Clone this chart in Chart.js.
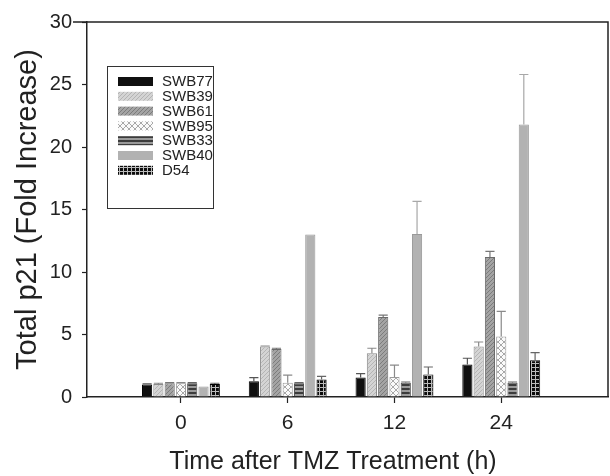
<!DOCTYPE html>
<html>
<head>
<meta charset="utf-8">
<script src="https://cdn.jsdelivr.net/npm/chart.js@4.4.1/dist/chart.umd.min.js"></script>
<style>
	html, body { margin: 0; padding: 0; background: #fff; }
	#wrap { width: 610px; height: 476px; }
</style>
</head>
<body>
<div id="wrap"><canvas id="p21Chart" width="610" height="476"></canvas></div>
<script>
// Time points (h) and cell lines
const timeLabels = [ '0', '6', '12', '24' ];
const lineNames = [ 'SWB77', 'SWB39', 'SWB61', 'SWB95', 'SWB33', 'SWB40', 'D54' ];

// Mean fold increase per cell line, one value per time point
const swb77 = [ 1.0, 1.27, 1.57, 2.6 ];
const swb39 = [ 1.05, 4.05, 3.5, 4.05 ];
const swb61 = [ 1.1, 3.85, 6.4, 11.2 ];
const swb95 = [ 1.1, 1.15, 1.6, 4.85 ];
const swb33 = [ 1.1, 1.1, 1.15, 1.15 ];
const swb40 = [ 0.85, 13.0, 13.05, 21.8 ];
const d54 = [ 1.05, 1.4, 1.8, 2.95 ];

// Upper error (SD) per cell line
const swb77Err = [ 0.05, 0.28, 0.3, 0.5 ];
const swb39Err = [ 0.05, 0.03, 0.4, 0.35 ];
const swb61Err = [ 0.05, 0.05, 0.15, 0.45 ];
const swb95Err = [ 0.05, 0.6, 0.95, 2.0 ];
const swb33Err = [ 0.05, 0.05, 0.05, 0.05 ];
const swb40Err = [ 0.0, 0.0, 2.6, 4.0 ];
const d54Err = [ 0.05, 0.25, 0.6, 0.6 ];

const yTicks = [ 0, 5, 10, 15, 20, 25, 30 ];
const xTitle = 'Time after TMZ Treatment (h)';

const FONT = '"Liberation Sans", Arial, sans-serif';
const TEXT = '#222';

// Fill patterns
function makePattern( size, draw ) {
	const c = document.createElement( 'canvas' );
	c.width = size;
	c.height = size;
	const g = c.getContext( '2d' );
	draw( g, size );
	return document.getElementById( 'p21Chart' ).getContext( '2d' ).createPattern( c, 'repeat' );
}

function diagonal( base, line ) {
	return makePattern( 4, ( g, s ) => {
		g.fillStyle = base;
		g.fillRect( 0, 0, s, s );
		g.fillStyle = line;
		for ( let i = 0; i < s; i++ ) {
			g.fillRect( i, s - 1 - i, 1, 1 );
		}
	} );
}

const fills = [
	'#101010',
	diagonal( '#d4d4d4', '#b4b4b4' ),
	diagonal( '#a4a4a4', '#7c7c7c' ),
	makePattern( 6, ( g, s ) => {
		g.fillStyle = '#fafafa';
		g.fillRect( 0, 0, s, s );
		g.fillStyle = '#a8a8a8';
		for ( let i = 0; i < s; i++ ) {
			g.fillRect( i, i, 1, 1 );
			g.fillRect( i, s - 1 - i, 1, 1 );
		}
	} ),
	makePattern( 4, ( g, s ) => {
		g.fillStyle = '#9a9a9a';
		g.fillRect( 0, 0, s, s );
		g.fillStyle = '#3c3c3c';
		g.fillRect( 0, 0, s, 2 );
	} ),
	'#b2b2b2',
	makePattern( 4, ( g, s ) => {
		g.fillStyle = '#0c0c0c';
		g.fillRect( 0, 0, s, s );
		g.fillStyle = '#bbbbbb';
		g.fillRect( 0, 3, s, 1 );
		g.fillRect( 3, 0, 1, s );
	} ),
];
const borders = [ '#000', '#8a8a8a', '#6a6a6a', '#9a9a9a', '#444', '#999', '#000' ];
const errColors = [ '#555', '#8a8a8a', '#777', '#8a8a8a', '#666', '#a8a8a8', '#666' ];

const means = [ swb77, swb39, swb61, swb95, swb33, swb40, d54 ];
const errs = [ swb77Err, swb39Err, swb61Err, swb95Err, swb33Err, swb40Err, d54Err ];

const datasets = lineNames.map( ( name, i ) => ( {
	label: name,
	data: means[ i ].map( ( v, t ) => ( { x: t, y: v } ) ),
	errors: errs[ i ],
	errColor: errColors[ i ],
	backgroundColor: fills[ i ],
	borderColor: borders[ i ],
	borderWidth: 1,
	categoryPercentage: 0.74,
	barPercentage: 0.9,
} ) );

// Upper error bars with caps
const errorBars = {
	id: 'errorBars',
	afterDatasetsDraw( chart ) {
		const ctx = chart.ctx;
		const yScale = chart.scales.y;
		chart.data.datasets.forEach( ( ds, i ) => {
			const meta = chart.getDatasetMeta( i );
			meta.data.forEach( ( bar, j ) => {
				const err = ds.errors[ j ];
				if ( ! err ) {
					return;
				}
				const top = yScale.getPixelForValue( ds.data[ j ].y + err );
				const half = bar.width * 0.45;
				ctx.save();
				ctx.strokeStyle = ds.errColor;
				ctx.lineWidth = 1.2;
				ctx.beginPath();
				ctx.moveTo( bar.x, bar.y );
				ctx.lineTo( bar.x, top );
				ctx.moveTo( bar.x - half, top );
				ctx.lineTo( bar.x + half, top );
				ctx.stroke();
				ctx.restore();
			} );
		} );
	},
};

// Frame around the plot, x title, boxed legend inside the plot
const frameAndLegend = {
	id: 'frameAndLegend',
	afterDraw( chart ) {
		const ctx = chart.ctx;
		const a = chart.chartArea;
		ctx.save();
		ctx.strokeStyle = '#222';
		ctx.lineWidth = 1.5;
		ctx.beginPath();
		ctx.moveTo( a.left - 14, a.top );
		ctx.lineTo( a.right, a.top );
		ctx.lineTo( a.right, a.bottom );
		ctx.stroke();

		// x title sits left of the axis centre in the original
		ctx.font = '25px ' + FONT;
		ctx.fillStyle = TEXT;
		ctx.textAlign = 'center';
		ctx.textBaseline = 'middle';
		ctx.fillText( xTitle, a.left + 246, chart.height - 14 );

		const bx = a.left + 20;
		const by = a.top + 44;
		ctx.lineWidth = 1;
		ctx.strokeStyle = '#333';
		ctx.strokeRect( bx + 0.5, by + 0.5, 106, 142 );
		ctx.font = '15px ' + FONT;
		ctx.textAlign = 'left';
		chart.data.datasets.forEach( ( ds, i ) => {
			const ry = by + 15 + i * 14.8;
			ctx.fillStyle = ds.backgroundColor;
			ctx.fillRect( bx + 11, ry - 4, 35, 9 );
			ctx.fillStyle = TEXT;
			ctx.fillText( ds.label, bx + 55, ry + 1 );
		} );
		ctx.restore();
	},
};

new Chart( document.getElementById( 'p21Chart' ), {
	type: 'bar',
	data: { datasets },
	plugins: [ errorBars, frameAndLegend ],
	options: {
		responsive: false,
		animation: false,
		layout: { padding: { top: 18, right: 2, left: 0, bottom: 0 } },
		plugins: {
			legend: { display: false },
			tooltip: { enabled: false },
		},
		scales: {
			x: {
				type: 'linear',
				min: -0.88,
				max: 4.0,
				offset: false,
				afterFit: ( s ) => {
					s.height = 79;
				},
				afterBuildTicks: ( s ) => {
					s.ticks = timeLabels.map( ( l, i ) => ( { value: i } ) );
				},
				grid: {
					offset: false,
					drawOnChartArea: false,
					drawTicks: true,
					tickLength: 6,
					tickColor: '#222',
					tickWidth: 1.2,
				},
				border: { color: '#222', width: 1.5 },
				ticks: {
					callback: ( v ) => timeLabels[ v ],
					font: { family: FONT, size: 21 },
					color: TEXT,
					padding: 8,
					maxRotation: 0,
				},
			},
			y: {
				min: 0,
				max: 30,
				afterFit: ( s ) => {
					s.width = 87;
				},
				afterBuildTicks: ( s ) => {
					s.ticks = yTicks.map( ( v ) => ( { value: v } ) );
				},
				grid: {
					drawOnChartArea: false,
					drawTicks: true,
					tickLength: 5,
					tickColor: '#222',
					tickWidth: 1.2,
				},
				border: { color: '#222', width: 1.5 },
				ticks: {
					font: { family: FONT, size: 20 },
					color: TEXT,
					padding: 10,
				},
				title: {
					display: true,
					text: 'Total p21 (Fold Increase)',
					font: { family: FONT, size: 29 },
					color: TEXT,
					padding: { top: 11, bottom: 0 },
				},
			},
		},
	},
} );
</script>
</body>
</html>
